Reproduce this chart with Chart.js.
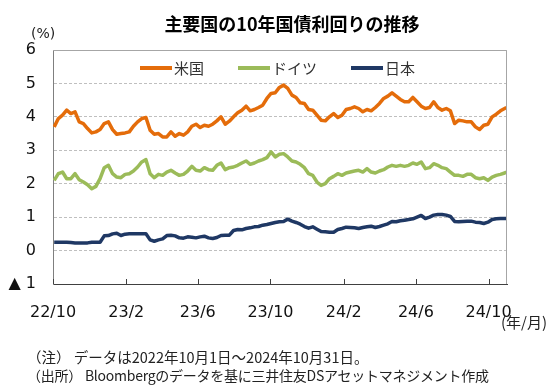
<!DOCTYPE html>
<html lang="ja">
<head>
<meta charset="utf-8">
<script src="https://cdn.jsdelivr.net/npm/chart.js@4"></script>
<style>
  html, body { margin: 0; padding: 0; background: #fff; overflow: hidden; }
  #wrap { position: relative; width: 550px; height: 385px; font-family: "Noto Sans CJK JP", sans-serif; color: #222; }
  #wrap canvas { position: absolute; left: 0; top: 0; }
  .txt { position: absolute; white-space: nowrap; }
  #title { left: 92px; width: 400px; top: 10px; text-align: center; font-size: 18px; font-weight: bold; color: #000; line-height: 26px; }
  #unit { left: 31px; top: 24px; font-family: "DejaVu Sans", sans-serif; font-size: 14px; line-height: 18px; }
  #xunit { right: 3px; top: 313px; font-size: 15px; line-height: 18px; }
  #note1 { left: 27px; top: 348px; font-size: 14.5px; line-height: 18px; }
  #note2 { left: 27px; top: 366px; font-size: 14px; line-height: 18px; letter-spacing: -0.25px; }
  #legend { position: absolute; left: 140px; top: 58px; display: flex; font-size: 15px; line-height: 20px; color: #333; }
  #legend .item { display: flex; align-items: center; margin-right: 34px; }
  #legend .line { display: inline-block; width: 32px; height: 4px; margin-right: 2px; }
</style>
</head>
<body>
<div id="wrap">
  <canvas id="chart"></canvas>
  <div class="txt" id="title">主要国の10年国債利回りの推移</div>
  <div class="txt" id="unit">(%)</div>
  <div id="legend"></div>
  <div class="txt" id="xunit">(年/月)</div>
  <div class="txt" id="note1">（注） データは2022年10月1日～2024年10月31日。</div>
  <div class="txt" id="note2">（出所） Bloombergのデータを基に三井住友DSアセットマネジメント作成</div>
</div>
<script>
// 週次で読み取った値（%）
const dates = [
  "2022-10-03","2022-10-10","2022-10-17","2022-10-24","2022-10-31","2022-11-07","2022-11-14","2022-11-21","2022-11-28","2022-12-05",
  "2022-12-12","2022-12-19","2022-12-26","2023-01-02","2023-01-09","2023-01-16","2023-01-23","2023-01-30","2023-02-06","2023-02-13",
  "2023-02-20","2023-02-27","2023-03-06","2023-03-13","2023-03-20","2023-03-27","2023-04-03","2023-04-10","2023-04-17","2023-04-24",
  "2023-05-01","2023-05-08","2023-05-15","2023-05-22","2023-05-29","2023-06-05","2023-06-12","2023-06-19","2023-06-26","2023-07-03",
  "2023-07-10","2023-07-17","2023-07-24","2023-07-31","2023-08-07","2023-08-14","2023-08-21","2023-08-28","2023-09-04","2023-09-11",
  "2023-09-18","2023-09-25","2023-10-02","2023-10-09","2023-10-16","2023-10-23","2023-10-30","2023-11-06","2023-11-13","2023-11-20",
  "2023-11-27","2023-12-04","2023-12-11","2023-12-18","2023-12-25","2024-01-01","2024-01-08","2024-01-15","2024-01-22","2024-01-29",
  "2024-02-05","2024-02-12","2024-02-19","2024-02-26","2024-03-04","2024-03-11","2024-03-18","2024-03-25","2024-04-01","2024-04-08",
  "2024-04-15","2024-04-22","2024-04-29","2024-05-06","2024-05-13","2024-05-20","2024-05-27","2024-06-03","2024-06-10","2024-06-17",
  "2024-06-24","2024-07-01","2024-07-08","2024-07-15","2024-07-22","2024-07-29","2024-08-05","2024-08-12","2024-08-19","2024-08-26",
  "2024-09-02","2024-09-09","2024-09-16","2024-09-23","2024-09-30","2024-10-07","2024-10-14","2024-10-21","2024-10-28","2024-10-31"
];

const usYield = [
  3.70,3.95,4.05,4.20,4.10,4.15,3.85,3.80,3.65,3.52,3.55,3.62,3.80,3.85,3.62,3.48,3.50,3.52,3.55,3.72,
  3.85,3.95,3.98,3.60,3.48,3.50,3.40,3.40,3.55,3.42,3.50,3.45,3.55,3.72,3.78,3.68,3.75,3.72,3.78,3.88,
  4.00,3.78,3.87,4.00,4.12,4.20,4.32,4.18,4.22,4.28,4.35,4.55,4.70,4.72,4.88,4.95,4.85,4.65,4.58,4.42,
  4.40,4.22,4.20,4.05,3.90,3.88,4.00,4.10,3.98,4.05,4.22,4.25,4.30,4.25,4.15,4.22,4.18,4.28,4.40,4.55,
  4.62,4.72,4.62,4.52,4.45,4.45,4.58,4.45,4.32,4.25,4.28,4.45,4.28,4.20,4.25,4.18,3.80,3.90,3.88,3.85,
  3.85,3.70,3.62,3.75,3.78,4.00,4.08,4.18,4.25,4.28
];

const deYield = [
  2.10,2.30,2.35,2.15,2.15,2.30,2.12,2.05,1.97,1.85,1.92,2.15,2.48,2.55,2.30,2.20,2.18,2.28,2.30,2.38,
  2.50,2.65,2.72,2.30,2.18,2.28,2.25,2.35,2.40,2.32,2.25,2.28,2.38,2.52,2.40,2.38,2.48,2.42,2.40,2.55,
  2.62,2.42,2.48,2.50,2.55,2.62,2.68,2.58,2.62,2.68,2.72,2.78,2.95,2.80,2.88,2.90,2.80,2.68,2.65,2.58,
  2.48,2.30,2.25,2.05,1.95,2.00,2.15,2.22,2.30,2.25,2.32,2.35,2.38,2.40,2.35,2.45,2.35,2.32,2.38,2.42,
  2.50,2.55,2.52,2.55,2.52,2.55,2.62,2.58,2.65,2.45,2.48,2.60,2.55,2.48,2.45,2.35,2.25,2.25,2.22,2.28,
  2.28,2.18,2.15,2.18,2.10,2.20,2.25,2.28,2.32,2.35
];

const jpYield = [
  0.25,0.25,0.25,0.25,0.24,0.23,0.23,0.23,0.23,0.25,0.25,0.25,0.44,0.45,0.50,0.52,0.45,0.49,0.50,0.50,
  0.50,0.50,0.50,0.32,0.28,0.32,0.35,0.45,0.46,0.44,0.38,0.37,0.41,0.40,0.38,0.41,0.43,0.38,0.36,0.39,
  0.45,0.46,0.46,0.60,0.63,0.62,0.66,0.68,0.71,0.72,0.76,0.78,0.81,0.84,0.86,0.87,0.94,0.88,0.84,0.79,
  0.72,0.67,0.71,0.64,0.57,0.56,0.55,0.55,0.63,0.66,0.70,0.69,0.68,0.66,0.69,0.71,0.73,0.69,0.72,0.76,
  0.80,0.87,0.86,0.89,0.91,0.93,0.95,1.00,1.05,0.96,1.00,1.06,1.08,1.08,1.06,1.02,0.87,0.86,0.87,0.88,
  0.88,0.85,0.84,0.81,0.85,0.93,0.95,0.96,0.96,0.96
];

const series = [
  { name: "米国", values: usYield, color: "#E46C0A" },
  { name: "ドイツ", values: deYield, color: "#9BBB59" },
  { name: "日本", values: jpYield, color: "#1F3864" }
];

// 目盛り（年/月）
const tickDates = ["2022-10-01","2023-02-01","2023-06-01","2023-10-01","2024-02-01","2024-06-01","2024-10-01"];
const tickLabels = ["22/10","23/2","23/6","23/10","24/2","24/6","24/10"];
const startDate = "2022-10-01";
const endDate = "2024-11-01";

const dayOf = (s) => (Date.parse(s) - Date.parse(startDate)) / 86400000;

// 凡例（HTML）
const legendEl = document.getElementById("legend");
series.forEach((s) => {
  const item = document.createElement("div");
  item.className = "item";
  item.innerHTML = '<span class="line" style="background:' + s.color + '"></span><span>' + s.name + "</span>";
  legendEl.appendChild(item);
});

// 枠線と内向きの目盛り線
const framePlugin = {
  id: "frame",
  afterDraw(chart) {
    const { ctx, chartArea: a } = chart;
    const x = chart.scales.x;
    ctx.save();
    ctx.lineWidth = 1;
    ctx.strokeStyle = "#a6a6a6";
    ctx.beginPath();
    ctx.moveTo(a.left, a.top + 0.5);
    ctx.lineTo(a.right - 0.5, a.top + 0.5);
    ctx.lineTo(a.right - 0.5, a.bottom);
    ctx.stroke();
    ctx.strokeStyle = "#404040";
    ctx.beginPath();
    x.ticks.forEach((t) => {
      const px = Math.round(x.getPixelForValue(t.value)) + 0.5;
      ctx.moveTo(px, a.bottom);
      ctx.lineTo(px, a.bottom - 5);
    });
    ctx.stroke();
    ctx.restore();
  }
};

new Chart(document.getElementById("chart"), {
  type: "line",
  data: {
    datasets: series.map((s) => ({
      label: s.name,
      data: s.values.map((v, i) => ({ x: dayOf(dates[i]), y: v })),
      borderColor: s.color,
      backgroundColor: s.color,
      borderWidth: 3.5,
      pointRadius: 0,
      tension: 0,
      borderJoinStyle: "round"
    }))
  },
  options: {
    responsive: true,
    maintainAspectRatio: false,
    animation: false,
    layout: { padding: { left: 0, top: 50, right: 43, bottom: 0 } },
    plugins: {
      legend: { display: false },
      tooltip: { enabled: false }
    },
    scales: {
      x: {
        type: "linear",
        min: 0,
        max: dayOf(endDate),
        afterFit: (scale) => { scale.height = 101; },
        afterBuildTicks: (scale) => {
          scale.ticks = tickDates.map((d) => ({ value: dayOf(d) }));
        },
        grid: { display: true, drawOnChartArea: false, drawTicks: false },
        border: { display: true, color: "#404040", width: 1 },
        ticks: {
          autoSkip: false,
          maxRotation: 0,
          padding: 19,
          color: "#111",
          font: { family: "DejaVu Sans", size: 16 },
          callback: (v, i) => tickLabels[i]
        }
      },
      y: {
        min: -1,
        max: 6,
        afterFit: (scale) => { scale.width = 53; },
        grid: { color: "#bfbfbf", lineWidth: 1, drawTicks: false },
        border: { display: true, color: "#7f7f7f", width: 1, dash: [3, 2] },
        ticks: {
          stepSize: 1,
          padding: 17,
          color: "#111",
          font: { family: "DejaVu Sans", size: 16 },
          callback: (v) => (v < 0 ? "▲ " + Math.abs(v) : String(v))
        }
      }
    }
  },
  plugins: [framePlugin]
});
</script>
</body>
</html>
